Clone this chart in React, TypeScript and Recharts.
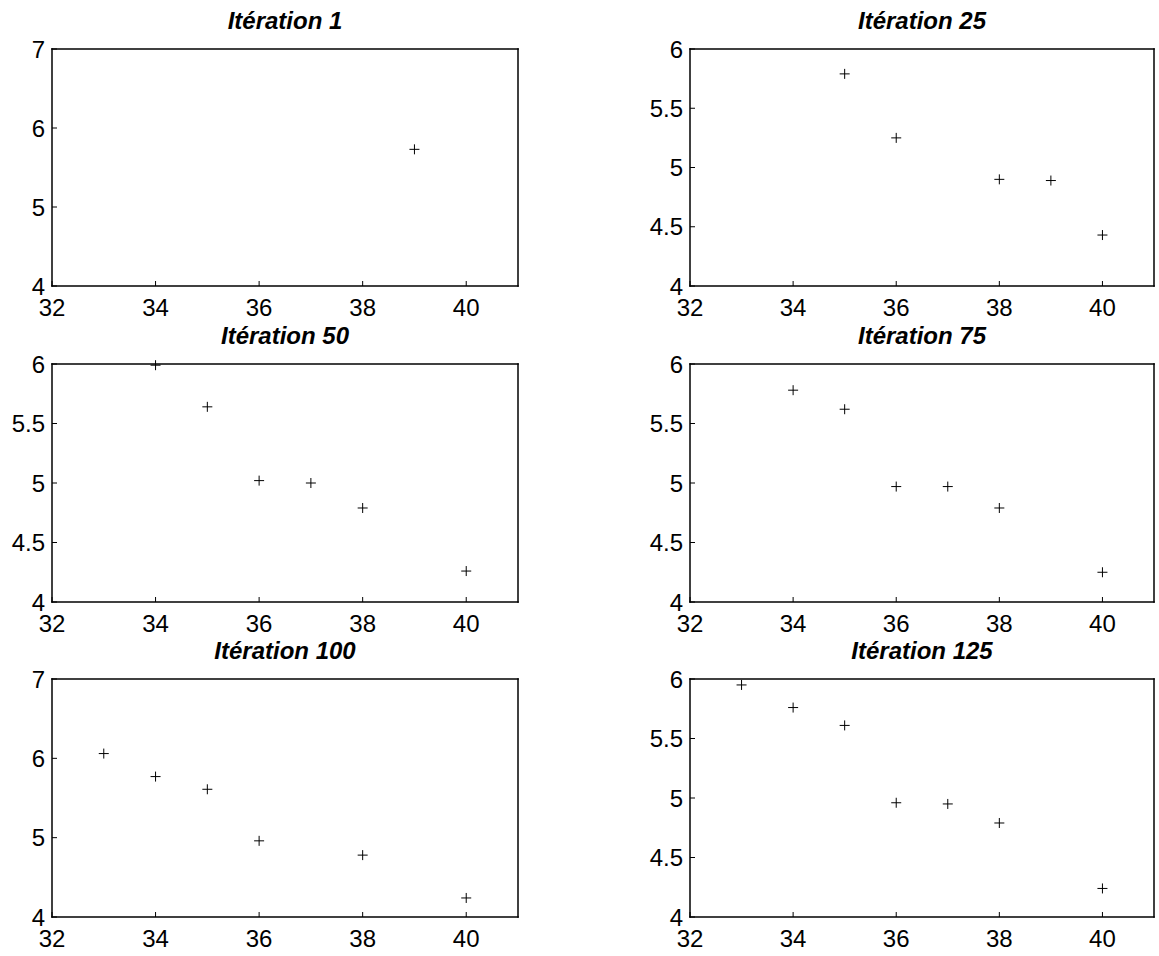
import React from 'react';
import { ScatterChart, Scatter, XAxis, YAxis } from 'recharts';

// shared axis setup
const xDomain = [32, 41];
const xTicks = [32, 34, 36, 38, 40];
const yTicksWide = [4, 5, 6, 7];
const yTicksNarrow = [4, 4.5, 5, 5.5, 6];

// points per iteration
const iter1X = [39];
const iter1Y = [5.73];

const iter25X = [35, 36, 38, 39, 40];
const iter25Y = [5.79, 5.25, 4.9, 4.89, 4.43];

const iter50X = [34, 35, 36, 37, 38, 40];
const iter50Y = [5.99, 5.64, 5.02, 5.0, 4.79, 4.26];

const iter75X = [34, 35, 36, 37, 38, 40];
const iter75Y = [5.78, 5.62, 4.97, 4.97, 4.79, 4.25];

const iter100X = [33, 34, 35, 36, 38, 40];
const iter100Y = [6.06, 5.77, 5.61, 4.96, 4.78, 4.24];

const iter125X = [33, 34, 35, 36, 37, 38, 40];
const iter125Y = [5.95, 5.76, 5.61, 4.96, 4.95, 4.79, 4.24];

const FONT = '"Liberation Sans", Arial, Helvetica, sans-serif';
const TICK = 5;
const FRAME = { stroke: '#000', strokeWidth: 1.5, strokeLinecap: 'square' as const };

const toPoints = (xs: number[], ys: number[]) => xs.map((x, i) => ({ x, y: ys[i] }));

const Plus = (props: any) => {
  const { cx, cy } = props;
  return (
    <g stroke='#000' strokeWidth={1}>
      <line x1={cx - 5} y1={cy} x2={cx + 5} y2={cy} />
      <line x1={cx} y1={cy - 5} x2={cx} y2={cy + 5} />
    </g>
  );
};

const BottomTick = ({ x, y, payload }: any) => (
  <g>
    <line x1={x} y1={y} x2={x} y2={y - TICK} stroke='#000' />
    <text x={x} y={y + 30} textAnchor='middle' fontSize={24} fontFamily={FONT} fill='#000'>
      {payload.value}
    </text>
  </g>
);

const TopTick = ({ x, y }: any) => <line x1={x} y1={y} x2={x} y2={y + TICK} stroke='#000' />;

const LeftTick = ({ x, y, payload }: any) => (
  <g>
    <line x1={x} y1={y} x2={x + TICK} y2={y} stroke='#000' />
    <text x={x - 7} y={y + 8.5} textAnchor='end' fontSize={24} fontFamily={FONT} fill='#000'>
      {payload.value}
    </text>
  </g>
);

const RightTick = ({ x, y }: any) => <line x1={x} y1={y} x2={x - TICK} y2={y} stroke='#000' />;

// axes are 1px thick, so the plot box sits at (52, 49) inside each chart
const Panel = ({ title, xs, ys, yTicks, left, top, width, height }: any) => {
  const yDomain = [yTicks[0], yTicks[yTicks.length - 1]];
  const m = { top: 48, left: 51, right: 11, bottom: 39 };
  return (
    <>
      <div
        style={{
          position: 'absolute',
          left,
          top: top - 40.3,
          width,
          textAlign: 'center',
          fontFamily: FONT,
          fontSize: 24,
          lineHeight: '24px',
          fontWeight: 'bold',
          fontStyle: 'italic',
          color: '#000',
          whiteSpace: 'nowrap',
        }}
      >
        {title}
      </div>
      <div style={{ position: 'absolute', left: left - 52, top: top - 49 }}>
        <ScatterChart width={52 + width + 12} height={49 + height + 40} margin={m}>
          <XAxis
            xAxisId='bottom'
            type='number'
            dataKey='x'
            domain={xDomain}
            ticks={xTicks}
            interval={0}
            height={1}
            tickSize={0}
            tickMargin={0}
            tickLine={false}
            axisLine={FRAME}
            tick={<BottomTick />}
          />
          <XAxis
            xAxisId='top'
            orientation='top'
            type='number'
            dataKey='x'
            domain={xDomain}
            ticks={xTicks}
            interval={0}
            height={1}
            tickSize={0}
            tickMargin={0}
            tickLine={false}
            axisLine={FRAME}
            tick={<TopTick />}
          />
          <YAxis
            yAxisId='left'
            type='number'
            dataKey='y'
            domain={yDomain}
            ticks={yTicks}
            interval={0}
            width={1}
            tickSize={0}
            tickMargin={0}
            tickLine={false}
            axisLine={FRAME}
            tick={<LeftTick />}
          />
          <YAxis
            yAxisId='right'
            orientation='right'
            type='number'
            dataKey='y'
            domain={yDomain}
            ticks={yTicks}
            interval={0}
            width={1}
            tickSize={0}
            tickMargin={0}
            tickLine={false}
            axisLine={FRAME}
            tick={<RightTick />}
          />
          <Scatter
            xAxisId='bottom'
            yAxisId='left'
            data={toPoints(xs, ys)}
            shape={<Plus />}
            isAnimationActive={false}
          />
        </ScatterChart>
      </div>
    </>
  );
};

const COL_LEFT = [52, 690];
const COL_WIDTH = [466, 464];
const ROW_TOP = [49, 364, 679];
const ROW_HEIGHT = [237, 238, 238];

export default function App() {
  const panels = [
    { title: 'Itération 1', xs: iter1X, ys: iter1Y, yTicks: yTicksWide },
    { title: 'Itération 25', xs: iter25X, ys: iter25Y, yTicks: yTicksNarrow },
    { title: 'Itération 50', xs: iter50X, ys: iter50Y, yTicks: yTicksNarrow },
    { title: 'Itération 75', xs: iter75X, ys: iter75Y, yTicks: yTicksNarrow },
    { title: 'Itération 100', xs: iter100X, ys: iter100Y, yTicks: yTicksWide },
    { title: 'Itération 125', xs: iter125X, ys: iter125Y, yTicks: yTicksNarrow },
  ];
  return (
    <div style={{ position: 'relative', width: 1159, height: 956, background: '#fff', overflow: 'hidden' }}>
      <style>{'body { margin: 0; }'}</style>
      {panels.map((p, i) => {
        const row = Math.floor(i / 2);
        const col = i % 2;
        return (
          <Panel
            key={p.title}
            {...p}
            left={COL_LEFT[col]}
            top={ROW_TOP[row]}
            width={COL_WIDTH[col]}
            height={ROW_HEIGHT[row]}
          />
        );
      })}
    </div>
  );
}
